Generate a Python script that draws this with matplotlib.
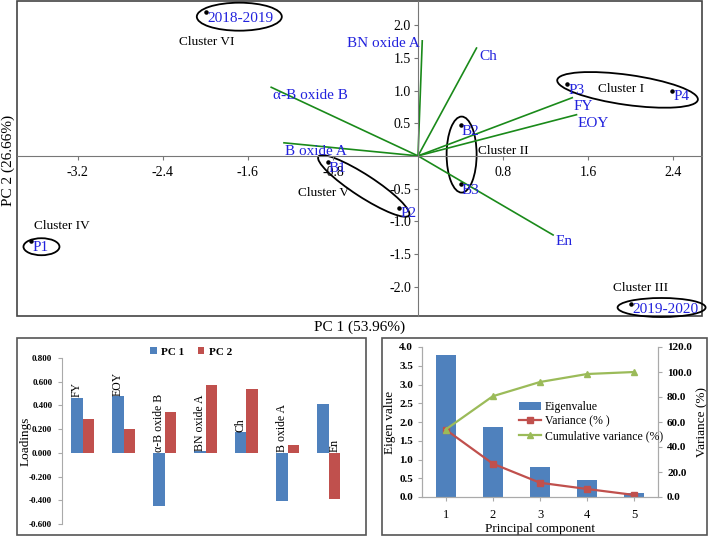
import numpy as np
import matplotlib
matplotlib.use("Agg")
import matplotlib.pyplot as plt
from matplotlib.patches import Ellipse, Rectangle
from matplotlib.transforms import ScaledTranslation

plt.rcParams["font.family"] = ["Liberation Serif", "DejaVu Serif"]

# =========================
# DATA
# =========================
# biplot: variable loadings (arrow tips)
var_names = ["BN oxide A", "Ch", "\u03b1-B oxide B", "B oxide A", "FY", "EOY", "En"]
var_x = [0.04, 0.55, -1.38, -1.26, 1.45, 1.49, 1.27]
var_y = [1.76, 1.65, 1.05, 0.20, 0.89, 0.63, -1.21]

# biplot: observation scores
obs_names = ["2018-2019", "P1", "P3", "P4", "B2", "B3", "P2", "B1", "2019-2020"]
obs_x = [-1.99, -3.64, 1.40, 2.39, 0.40, 0.40, -0.18, -0.85, 2.00]
obs_y = [2.20, -1.30, 1.10, 1.00, 0.47, -0.43, -0.79, -0.09, -2.26]

# loadings bar chart
load_cats = ["FY", "EOY", "\u03b1-B oxide B", "BN oxide A", "Ch", "B oxide A", "En"]
pc1_load = [0.465, 0.476, -0.445, 0.012, 0.175, -0.405, 0.408]
pc2_load = [0.287, 0.203, 0.345, 0.570, 0.535, 0.068, -0.385]
label_on = [0, 0, 0, 0, 0, 0, 1]  # which series carries the category label

# scree plot
components = [1, 2, 3, 4, 5]
eigenvalues = [3.78, 1.87, 0.80, 0.45, 0.11]
variance = [53.96, 26.66, 11.4, 6.4, 1.6]
cum_variance = [53.96, 80.62, 92.0, 98.4, 100.0]

BLUE = "#4F81BD"
RED = "#C0504D"
GREEN = "#9BBB59"
TXT_BLUE = "#2222dd"

W, H = 708, 537
fig = plt.figure(figsize=(W / 100, H / 100), dpi=100)


def px_box(x0, y0, x1, y1):
    return [x0 / W, 1 - y1 / H, (x1 - x0) / W, (y1 - y0) / H]


# =========================
# BIPLOT
# =========================
ax = fig.add_axes(px_box(17, 1, 702, 316))
ax.set_xlim(-3.77, 2.67)
ax.set_ylim(-2.45, 2.37)
for s in ["top", "right"]:
    ax.spines[s].set_visible(False)
ax.spines["left"].set_position(("data", 0))
ax.spines["bottom"].set_position(("data", 0))
ax.spines["left"].set_color("#777777")
ax.spines["bottom"].set_color("#777777")
ax.add_patch(Rectangle((0, 0), 1, 1, transform=ax.transAxes, fill=False,
                       ec="#444444", lw=1.2, clip_on=False))
ax.set_xticks([-3.2, -2.4, -1.6, -0.8, 0.8, 1.6, 2.4])
ax.set_xticklabels(["-3.2", "-2.4", "-1.6", "-0.8", "0.8", "1.6", "2.4"])
ax.set_yticks([-2.0, -1.5, -1.0, -0.5, 0.5, 1.0, 1.5, 2.0])
ax.set_yticklabels(["-2.0", "-1.5", "-1.0", "-0.5", "0.5", "1.0", "1.5", "2.0"])
ax.tick_params(labelsize=10, length=3, color="#777777", pad=2)
ax.tick_params(axis="x", pad=4)

for name, x, y in zip(var_names, var_x, var_y):
    ax.plot([0, x], [0, y], color="#1a8a1a", lw=1.2)

var_offsets = {
    "BN oxide A": (-2, -2, "right", "center"),
    "Ch": (2, -6, "left", "center"),
    "\u03b1-B oxide B": (1, -6, "left", "center"),
    "B oxide A": (1, -6, "left", "center"),
    "FY": (1, -6, "left", "center"),
    "EOY": (1, -6, "left", "center"),
    "En": (2, -5, "left", "center"),
}
for name, x, y in zip(var_names, var_x, var_y):
    dx, dy, ha, va = var_offsets[name]
    ax.annotate(name, (x, y), xytext=(dx, dy), textcoords="offset points",
                ha=ha, va=va, color=TXT_BLUE, fontsize=11)

ax.scatter(obs_x, obs_y, s=5, color="black", zorder=3)
for name, x, y in zip(obs_names, obs_x, obs_y):
    ax.annotate(name, (x, y), xytext=(1, -4.5), textcoords="offset points",
                ha="left", va="center", color=TXT_BLUE, fontsize=11)

# cluster ellipses: centre in data units, size in pixels, angle in degrees
clusters = [
    ((-1.68, 2.13), 85, 28, 0),
    ((-3.54, -1.39), 36, 17, 0),
    ((1.97, 1.01), 142, 30, -8),
    ((0.41, 0.02), 30, 76, 0),
    ((-0.51, -0.46), 108, 22, -33),
    ((2.29, -2.32), 88, 19, 0),
]
for (cx, cy), w, h, ang in clusters:
    tr = fig.dpi_scale_trans + ScaledTranslation(cx, cy, ax.transData)
    ax.add_patch(Ellipse((0, 0), w / 100, h / 100, angle=ang, transform=tr,
                         fill=False, ec="black", lw=1.3, clip_on=False))

cluster_labels = [
    ("Cluster VI", -1.99, 1.74),
    ("Cluster IV", -3.35, -1.07),
    ("Cluster I", 1.91, 1.03),
    ("Cluster II", 0.80, 0.07),
    ("Cluster V", -0.89, -0.57),
    ("Cluster III", 2.09, -2.02),
]
for txt, x, y in cluster_labels:
    ax.text(x, y, txt, ha="center", va="center", fontsize=9.5)

fig.text(360 / W, 1 - 327 / H, "PC 1 (53.96%)", ha="center", va="center", fontsize=11)
fig.text(8 / W, 1 - 160 / H, "PC 2 (26.66%)", ha="center", va="center",
         rotation=90, fontsize=11)

# =========================
# LOADINGS BAR CHART
# =========================
fig.add_artist(Rectangle((17 / W, 1 - 535 / H), 349 / W, 197 / H,
                         transform=fig.transFigure, fill=False, ec="#555555", lw=1.2))
ax2 = fig.add_axes(px_box(62, 358, 349, 524))
idx = np.arange(len(load_cats))
bw = 0.29
ax2.bar(idx - bw / 2, pc1_load, bw, color=BLUE, label="PC 1")
ax2.bar(idx + bw / 2, pc2_load, bw, color=RED, label="PC 2")
ax2.set_xlim(-0.5, len(load_cats) - 0.5)
ax2.set_ylim(-0.6, 0.8)
ax2.set_yticks(np.arange(-0.6, 0.81, 0.2))
ax2.set_yticklabels([f"{v:.3f}" for v in np.arange(-0.6, 0.81, 0.2)],
                    fontweight="bold", fontsize=6.5)
ax2.set_xticks([])
for s in ["top", "right", "bottom"]:
    ax2.spines[s].set_visible(False)
ax2.spines["left"].set_color("#aaaaaa")
ax2.tick_params(axis="y", length=3, color="#aaaaaa", pad=4)
ax2.set_ylabel("Loadings", fontsize=9.5)
ax2.yaxis.set_label_coords(-0.105, 0.5)
for i, cat in enumerate(load_cats):
    if label_on[i] == 0:
        xpos, val = i - bw / 2, pc1_load[i]
    else:
        xpos, val = i + bw / 2, pc2_load[i]
    ax2.text(xpos, max(val, 0) + 0.005, cat, rotation=90, ha="center", va="bottom",
             fontsize=8.5)
ax2.legend(loc="lower center", bbox_to_anchor=(0.45, 0.98), ncol=2, frameon=False,
           prop={"weight": "bold", "size": 8}, handlelength=0.6, handleheight=0.6,
           columnspacing=1.2, handletextpad=0.4, borderaxespad=0)

# =========================
# SCREE PLOT
# =========================
fig.add_artist(Rectangle((382 / W, 1 - 535 / H), 325 / W, 197 / H,
                         transform=fig.transFigure, fill=False, ec="#555555", lw=1.2))
ax3 = fig.add_axes(px_box(422, 347, 658, 497))
ax3.bar(components, eigenvalues, 0.42, color=BLUE, label="Eigenvalue")
ax3.set_xlim(0.5, 5.5)
ax3.set_ylim(0, 4.0)
ax3.set_yticks(np.arange(0, 4.01, 0.5))
ax3.set_yticklabels([f"{v:.1f}" for v in np.arange(0, 4.01, 0.5)],
                    fontweight="bold", fontsize=8)
ax3.set_xticks(components)
ax3.set_xticklabels([str(c) for c in components], fontsize=9)
ax3.spines["top"].set_visible(False)
for s in ["left", "bottom", "right"]:
    ax3.spines[s].set_color("#aaaaaa")
ax3.tick_params(length=3, color="#aaaaaa")
ax3.tick_params(axis="x", pad=6)
ax3.set_xlabel("Principal component", fontsize=9.5, labelpad=1)
ax3.set_ylabel("Eigen value", fontsize=9.5, labelpad=2)

ax4 = ax3.twinx()
ax4.plot(components, variance, color=RED, marker="s", ms=5, lw=1.6, label="Variance (% )")
ax4.plot(components, cum_variance, color=GREEN, marker="^", ms=5, lw=1.6,
         label="Cumulative variance (%)")
ax4.set_ylim(0, 120)
ax4.set_yticks(np.arange(0, 121, 20))
ax4.set_yticklabels([f"{v:.1f}" for v in np.arange(0, 121, 20)],
                    fontweight="bold", fontsize=8)
ax4.spines["top"].set_visible(False)
for s in ["left", "bottom", "right"]:
    ax4.spines[s].set_color("#aaaaaa")
ax4.tick_params(length=3, color="#aaaaaa")
ax4.set_ylabel("Variance (%)", fontsize=9.5, labelpad=3)

h1, l1 = ax3.get_legend_handles_labels()
h2, l2 = ax4.get_legend_handles_labels()
ax4.legend(h1 + h2, l1 + l2, loc="upper left", bbox_to_anchor=(0.39, 0.67),
           frameon=False, fontsize=8.5, handlelength=1.9, labelspacing=0.2,
           borderaxespad=0, handletextpad=0.3)

fig.savefig("out.png", dpi=100)
